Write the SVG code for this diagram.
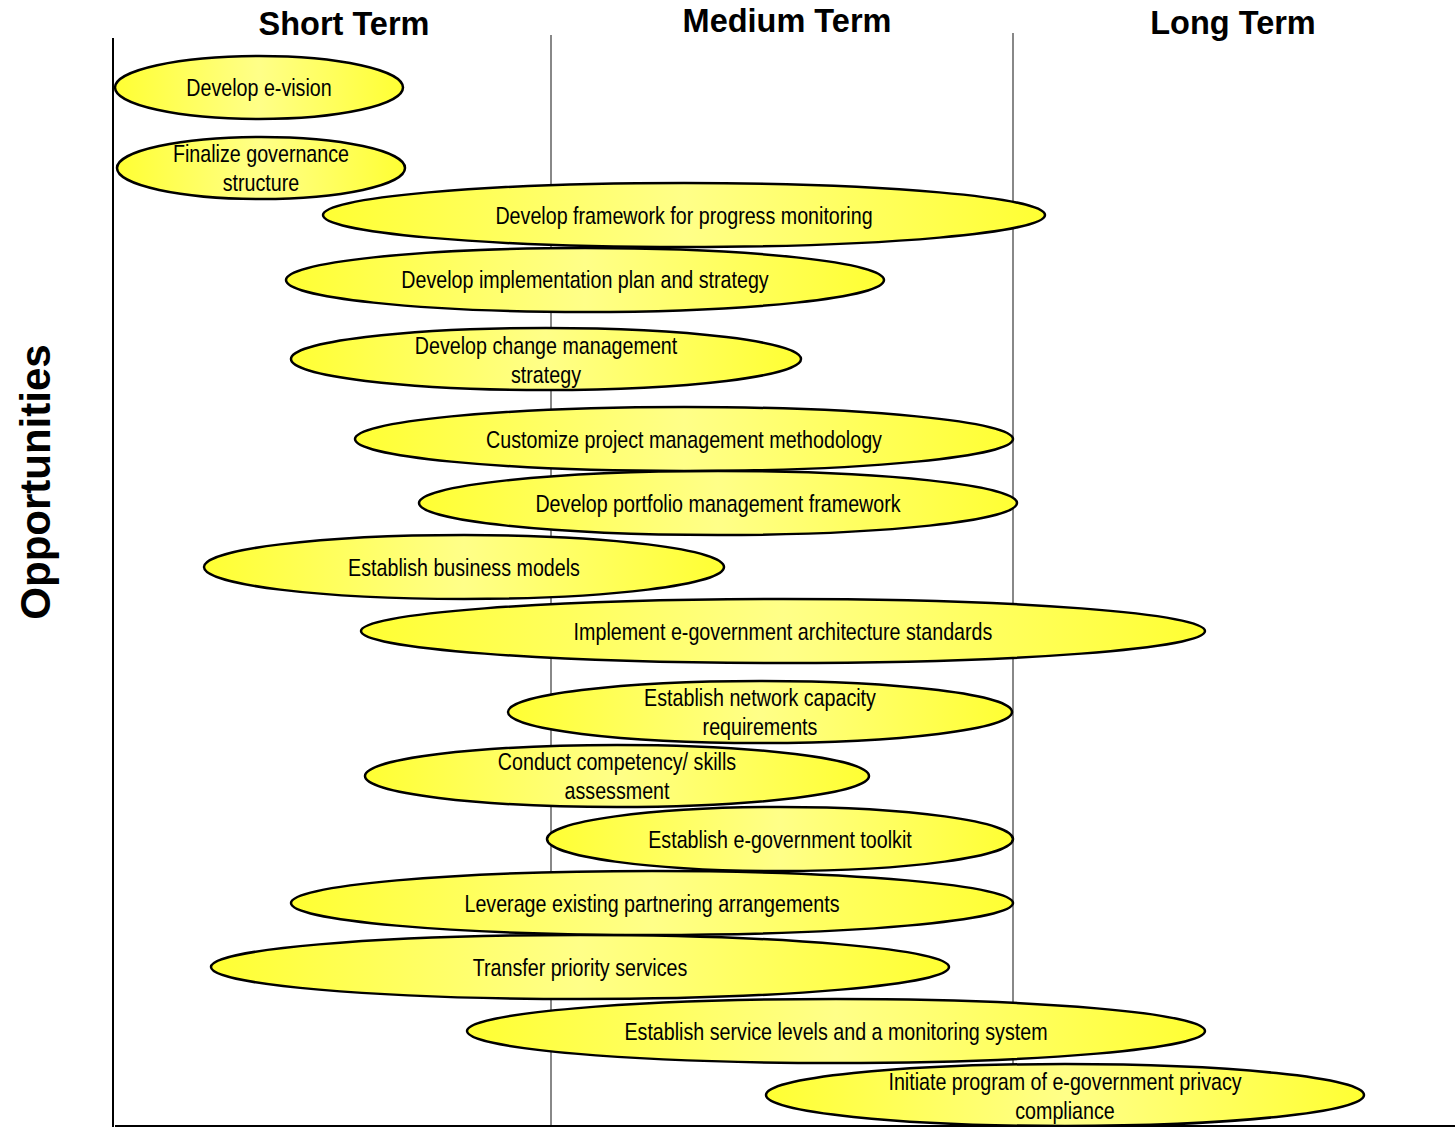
<svg xmlns="http://www.w3.org/2000/svg" width="1455" height="1127" viewBox="0 0 1455 1127">
<style>
.hdr{font-family:"Liberation Sans",Arial,sans-serif;font-weight:bold;font-size:32.5px;fill:#000;text-anchor:middle}
.ax{font-family:"Liberation Sans",Arial,sans-serif;font-weight:bold;font-size:42px;fill:#000;text-anchor:middle}
.ell{fill:url(#yg);stroke:#000;stroke-width:2.5}
.lbl{font-family:"Liberation Sans",Arial,sans-serif;font-size:24px;fill:#000;text-anchor:middle}
.grid{stroke:#888;stroke-width:2}
.axis{stroke:#000;stroke-width:2}
</style>
<defs>
<linearGradient id="yg" x1="0" y1="0" x2="1" y2="0">
<stop offset="0" stop-color="#ffff33"/>
<stop offset="0.5" stop-color="#ffff88"/>
<stop offset="1" stop-color="#ffff33"/>
</linearGradient>
</defs>
<rect width="1455" height="1127" fill="#fff"/>
<g id="axes">
<line class="grid" x1="551" y1="35" x2="551" y2="1127"/>
<line class="grid" x1="1013" y1="33" x2="1013" y2="1127"/>
<line class="axis" x1="113" y1="38" x2="113" y2="1127"/>
<line class="axis" x1="115" y1="1126" x2="1455" y2="1126"/>
<text class="hdr" x="344" y="35">Short Term</text>
<text class="hdr" x="787" y="32">Medium Term</text>
<text class="hdr" x="1233" y="34">Long Term</text>
<text class="ax" transform="translate(50,482) rotate(-90)">Opportunities</text>
</g>
<g id="connectors"></g>
<g id="n1"><ellipse class="ell" cx="259" cy="87.5" rx="144" ry="31.5"/><text class="lbl" transform="translate(259,96) scale(0.82,1)">Develop e-vision</text></g>
<g id="n2"><ellipse class="ell" cx="261" cy="168" rx="144" ry="31"/><text class="lbl" transform="translate(261,162) scale(0.82,1)">Finalize governance</text><text class="lbl" transform="translate(261,191) scale(0.82,1)">structure</text></g>
<g id="n3"><ellipse class="ell" cx="684" cy="215" rx="361" ry="32"/><text class="lbl" transform="translate(684,224) scale(0.82,1)">Develop framework for progress monitoring</text></g>
<g id="n4"><ellipse class="ell" cx="585" cy="280" rx="299" ry="32"/><text class="lbl" transform="translate(585,288) scale(0.82,1)">Develop implementation plan and strategy</text></g>
<g id="n5"><ellipse class="ell" cx="546" cy="359" rx="255" ry="31"/><text class="lbl" transform="translate(546,354) scale(0.82,1)">Develop change management</text><text class="lbl" transform="translate(546,383) scale(0.82,1)">strategy</text></g>
<g id="n6"><ellipse class="ell" cx="684" cy="439" rx="329" ry="32"/><text class="lbl" transform="translate(684,448) scale(0.82,1)">Customize project management methodology</text></g>
<g id="n7"><ellipse class="ell" cx="718" cy="503" rx="299" ry="32"/><text class="lbl" transform="translate(718,512) scale(0.82,1)">Develop portfolio management framework</text></g>
<g id="n8"><ellipse class="ell" cx="464" cy="567" rx="260" ry="32"/><text class="lbl" transform="translate(464,576) scale(0.82,1)">Establish business models</text></g>
<g id="n9"><ellipse class="ell" cx="783" cy="631" rx="422" ry="32"/><text class="lbl" transform="translate(783,640) scale(0.82,1)">Implement e-government architecture standards</text></g>
<g id="n10"><ellipse class="ell" cx="760" cy="712" rx="252" ry="31"/><text class="lbl" transform="translate(760,706) scale(0.82,1)">Establish network capacity</text><text class="lbl" transform="translate(760,735) scale(0.82,1)">requirements</text></g>
<g id="n11"><ellipse class="ell" cx="617" cy="776" rx="252" ry="31"/><text class="lbl" transform="translate(617,770) scale(0.82,1)">Conduct competency/ skills</text><text class="lbl" transform="translate(617,799) scale(0.82,1)">assessment</text></g>
<g id="n12"><ellipse class="ell" cx="780" cy="839" rx="233" ry="32"/><text class="lbl" transform="translate(780,848) scale(0.82,1)">Establish e-government toolkit</text></g>
<g id="n13"><ellipse class="ell" cx="652" cy="903" rx="361" ry="32"/><text class="lbl" transform="translate(652,912) scale(0.82,1)">Leverage existing partnering arrangements</text></g>
<g id="n14"><ellipse class="ell" cx="580" cy="967" rx="369" ry="32"/><text class="lbl" transform="translate(580,976) scale(0.82,1)">Transfer priority services</text></g>
<g id="n15"><ellipse class="ell" cx="836" cy="1031" rx="369" ry="32"/><text class="lbl" transform="translate(836,1040) scale(0.82,1)">Establish service levels and a monitoring system</text></g>
<g id="n16"><ellipse class="ell" cx="1065" cy="1095" rx="299" ry="31"/><text class="lbl" transform="translate(1065,1090) scale(0.82,1)">Initiate program of e-government privacy</text><text class="lbl" transform="translate(1065,1119) scale(0.82,1)">compliance</text></g>
</svg>
